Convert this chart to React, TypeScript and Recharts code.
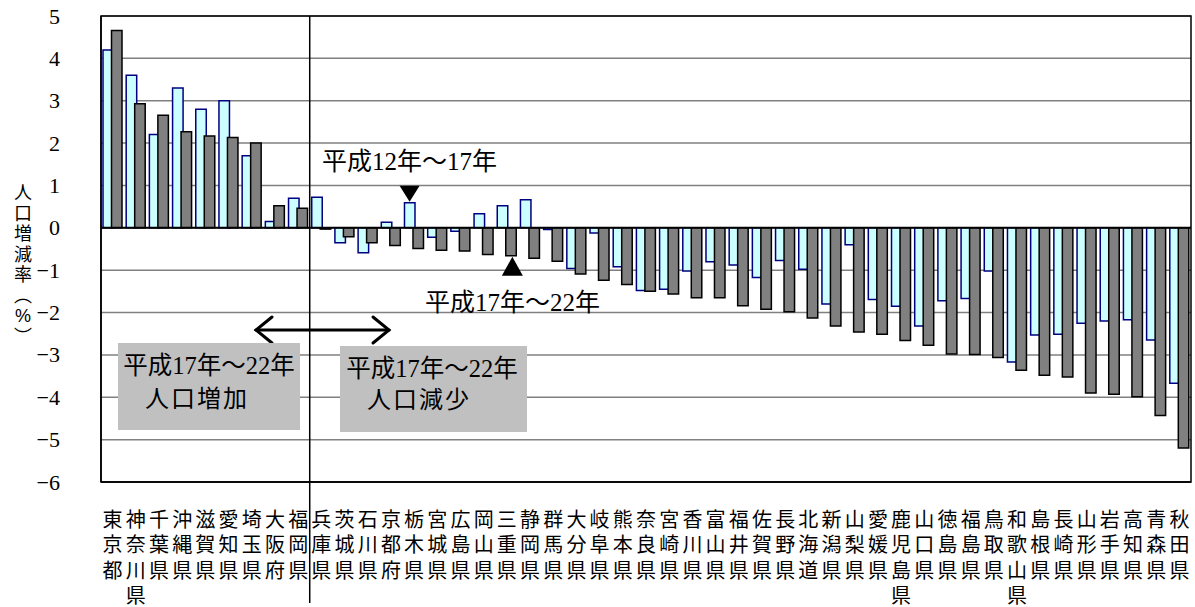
import React from 'react';
import {
  BarChart,
  Bar,
  XAxis,
  YAxis,
  CartesianGrid,
  ReferenceLine,
  ReferenceArea,
  ReferenceDot,
} from 'recharts';

// 都道府県（平成17年～22年の増減率順）
const prefectures = [
  '東京都', '神奈川県', '千葉県', '沖縄県', '滋賀県', '愛知県', '埼玉県', '大阪府', '福岡県',
  '兵庫県', '茨城県', '石川県', '京都府', '栃木県', '宮城県', '広島県', '岡山県', '三重県',
  '静岡県', '群馬県', '大分県', '岐阜県', '熊本県', '奈良県', '宮崎県', '香川県', '富山県',
  '福井県', '佐賀県', '長野県', '北海道', '新潟県', '山梨県', '愛媛県', '鹿児島県', '山口県',
  '徳島県', '福島県', '鳥取県', '和歌山県', '島根県', '長崎県', '山形県', '岩手県', '高知県',
  '青森県', '秋田県',
];

// 平成12年～17年 人口増減率（%）
const rateH12toH17 = [
  4.2, 3.6, 2.2, 3.3, 2.8, 3.0, 1.7, 0.15, 0.7,
  0.72, -0.35, -0.59, 0.13, 0.59, -0.22, -0.08, 0.33, 0.52,
  0.66, -0.04, -0.96, -0.12, -0.92, -1.48, -1.45, -1.02, -0.8,
  -0.88, -1.17, -0.77, -0.98, -1.8, -0.4, -1.69, -1.85, -2.32,
  -1.72, -1.67, -1.02, -3.17, -2.53, -2.51, -2.25, -2.2, -2.17,
  -2.65, -3.67,
];

// 平成17年～22年 人口増減率（%）
const rateH17toH22 = [
  4.66, 2.93, 2.66, 2.27, 2.17, 2.13, 2.0, 0.52, 0.46,
  -0.03, -0.21, -0.35, -0.42, -0.49, -0.53, -0.55, -0.63, -0.66,
  -0.72, -0.79, -1.09, -1.24, -1.34, -1.5, -1.56, -1.65, -1.65,
  -1.84, -1.92, -1.98, -2.13, -2.32, -2.46, -2.51, -2.66, -2.77,
  -2.98, -2.99, -3.06, -3.36, -3.48, -3.52, -3.9, -3.93, -3.99,
  -4.43, -5.2,
];

const yTicks = [5, 4, 3, 2, 1, 0, -1, -2, -3, -4, -5, -6];
const yLabelChars = ['人', '口', '増', '減', '率', '︵', '%', '︶'];

const data = prefectures.map((name, i) => ({
  name,
  h12: rateH12toH17[i],
  h17: rateH17toH22[i],
}));

const serif = '"Liberation Serif", "Noto Sans CJK JP", serif';
// Liberation Sans first: compact line box, CJK glyphs fall back to Noto Sans CJK
const gothic = '"Liberation Sans", "Noto Sans CJK JP", sans-serif';

const YTick = ({ x, y, payload }: any) => (
  <text x={x} y={y} textAnchor="end" dominantBaseline="central" fontFamily={serif} fontSize={22} fill="#000">
    {payload.value < 0 ? `−${Math.abs(payload.value)}` : payload.value}
  </text>
);

// 縦書きの都道府県名（1文字ずつ下へ）
const XTick = ({ x, y, payload }: any) => (
  <text textAnchor="middle" dominantBaseline="central" fontFamily={gothic} fontSize={20} fill="#000">
    {String(payload.value).split('').map((ch, i) => (
      <tspan key={i} x={x} y={y + 38 + i * 25.3}>
        {ch}
      </tspan>
    ))}
  </text>
);

// ▼ above the cyan bar, ▲ below the gray bar
const DownMarker = ({ cx, cy }: any) => (
  <path d={`M${cx - 14.5},${cy - 17} L${cx + 5.5},${cy - 17} L${cx - 4.5},${cy - 1} Z`} fill="#000" />
);
const UpMarker = ({ cx, cy }: any) => (
  <path d={`M${cx - 5},${cy + 20} L${cx + 16},${cy + 20} L${cx + 5.5},${cy + 1} Z`} fill="#000" />
);

// 増加／減少の境目（ラベル欄まで延ばす）
const Divider = ({ x1, y1, y2 }: any) => {
  const top = Math.min(y1, y2);
  const bottom = Math.max(y1, y2);
  return <line x1={x1} y1={top} x2={x1} y2={bottom + 121} stroke="#000" strokeWidth={1.5} />;
};

export default function App() {
  return (
    <div style={{ position: 'absolute', left: 0, top: 0, width: 1195, height: 607, background: '#fff' }}>
      <BarChart
        width={1195}
        height={607}
        data={data}
        margin={{ top: 16, right: 4, bottom: 5, left: 41 }}
        barSize={10.5}
        barGap={-2}
      >
        <CartesianGrid horizontal vertical={false} stroke="#808080" strokeWidth={1.5} />
        <XAxis
          dataKey="name"
          height={120}
          interval={0}
          tickLine={false}
          tickSize={0}
          tickMargin={0}
          axisLine={{ stroke: '#000', strokeWidth: 1.5 }}
          tick={<XTick />}
        />
        <YAxis
          width={60}
          domain={[-6, 5]}
          ticks={yTicks}
          interval={0}
          allowDataOverflow
          tickLine={false}
          tickMargin={35}
          axisLine={{ stroke: '#000', strokeWidth: 1.5 }}
          tick={<YTick />}
        />
        <ReferenceArea y1={-6} y2={5} fill="none" stroke="#000" strokeWidth={1.5} ifOverflow="visible" />
        <Bar dataKey="h12" fill="#CCFFFF" stroke="#000080" strokeWidth={1.5} isAnimationActive={false} />
        <Bar dataKey="h17" fill="#808080" stroke="#000" strokeWidth={1.5} isAnimationActive={false} />
        <ReferenceLine y={0} stroke="#000" strokeWidth={2} />
        <ReferenceLine x="兵庫県" position="start" ifOverflow="visible" shape={<Divider />} />
        <ReferenceDot x="栃木県" y={rateH12toH17[13]} r={0} ifOverflow="visible" shape={<DownMarker />} />
        <ReferenceDot x="三重県" y={rateH17toH22[17]} r={0} ifOverflow="visible" shape={<UpMarker />} />
      </BarChart>

      <svg width={1195} height={607} style={{ position: 'absolute', left: 0, top: 0, pointerEvents: 'none' }}>
        <text textAnchor="middle" dominantBaseline="central" fontFamily={gothic} fontSize={18} fill="#000">
          {yLabelChars.map((ch, i) => (
            <tspan key={i} x={23} y={193 + i * 20.5}>
              {ch}
            </tspan>
          ))}
        </text>

        <text x={322} y={161} dominantBaseline="central" fontFamily={serif} fontSize={25} fill="#000">平成12年～17年</text>
        <text x={425} y={302} dominantBaseline="central" fontFamily={serif} fontSize={25} fill="#000">平成17年～22年</text>

        {/* 増加 ⇔ 減少 */}
        <g stroke="#000" strokeWidth={3} fill="none" strokeLinecap="round">
          <line x1={256} y1={330} x2={389} y2={330} />
          <polyline points="272,317 256,330 272,343" />
          <polyline points="373,317 389,330 373,343" />
        </g>

        <rect x={118} y={343} width={182} height={87} fill="#C0C0C0" />
        <text x={209} y={365} textAnchor="middle" dominantBaseline="central" fontFamily={serif} fontSize={24.5} fill="#000">平成17年～22年</text>
        <text x={197} y={399} textAnchor="middle" dominantBaseline="central" fontFamily={serif} fontSize={24} letterSpacing={2} fill="#000">人口増加</text>

        <rect x={340} y={346} width={187} height={86} fill="#C0C0C0" />
        <text x={432} y={368} textAnchor="middle" dominantBaseline="central" fontFamily={serif} fontSize={24.5} fill="#000">平成17年～22年</text>
        <text x={419} y={400} textAnchor="middle" dominantBaseline="central" fontFamily={serif} fontSize={24} letterSpacing={2} fill="#000">人口減少</text>
      </svg>
    </div>
  );
}
